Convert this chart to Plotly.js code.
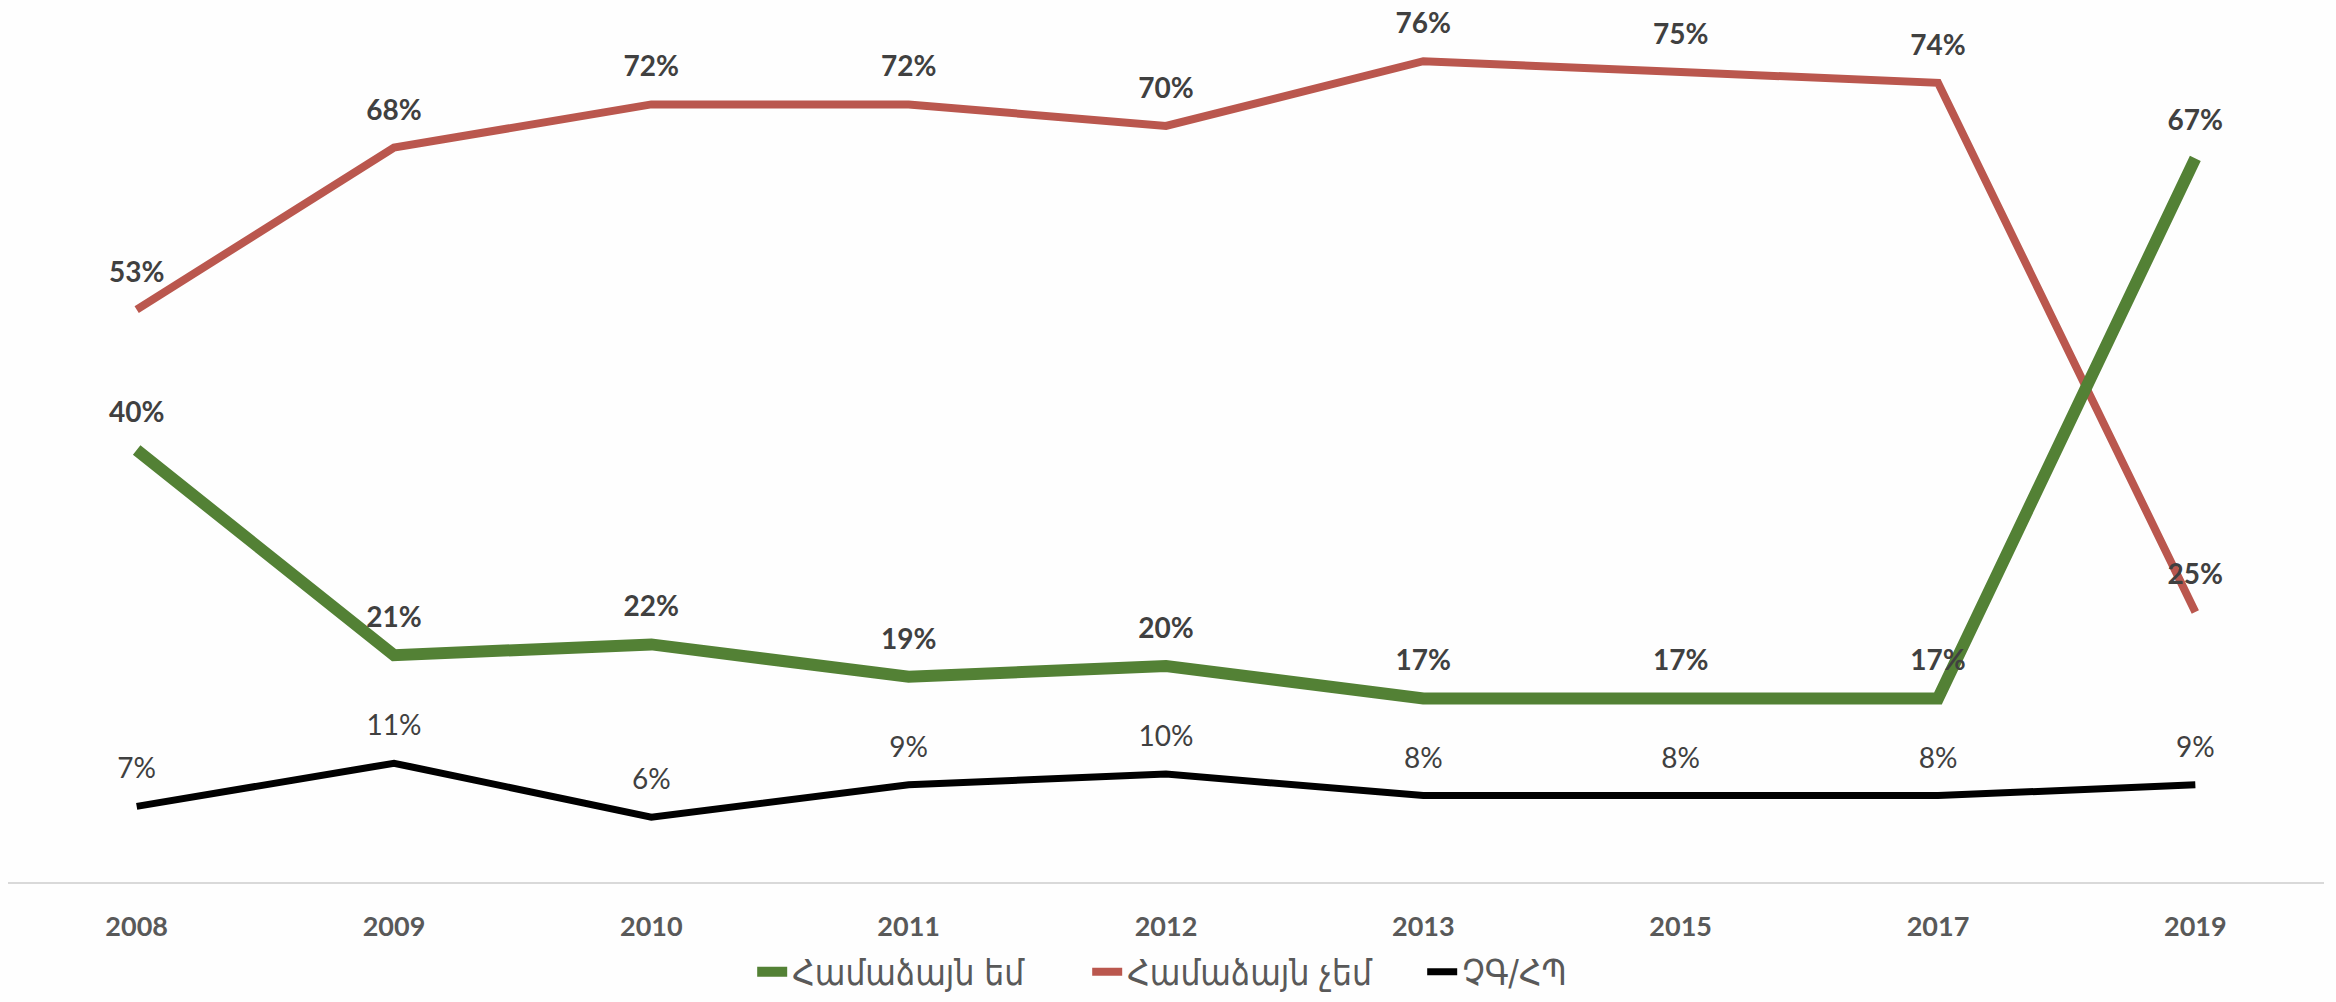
<!DOCTYPE html>
<html>
<head>
<meta charset="utf-8">
<script src="https://cdn.plot.ly/plotly-3.0.1.min.js"></script>
<style>html,body{margin:0;padding:0;background:#fefefe;}</style>
</head>
<body>
<div id="chart" style="width:2336px;height:1002px;"></div>
<script>
const years = ['2008','2009','2010','2011','2012','2013','2015','2017','2019'];
const agree = [40,21,22,19,20,17,17,17,67];
const disagree = [53,68,72,72,70,76,75,74,25];
const dk = [7,11,6,9,10,8,8,8,9];
const names = ['Համաձայն եմ','Համաձայն չեմ','ՉԳ/ՀՊ'];
const colors = ['#538135','#BA574E','#000000'];

function pct(a){return a.map(v=>v+'%');}
const hidden = 'rgba(0,0,0,0)';

const traces = [
  {x:years,y:disagree,name:names[1],mode:'lines+markers+text',text:pct(disagree),legendrank:2,
   textposition:'top center',line:{color:colors[1],width:8},marker:{size:32,color:hidden},
   textfont:{family:'Lato, sans-serif',size:28,color:'#404040',weight:700},hoverinfo:'none',cliponaxis:false},
  {x:years,y:agree,name:names[0],mode:'lines+markers+text',text:pct(agree),legendrank:1,
   textposition:'top center',line:{color:colors[0],width:12},marker:{size:32,color:hidden},
   textfont:{family:'Lato, sans-serif',size:28,color:'#404040',weight:700},hoverinfo:'none',cliponaxis:false},
  {x:years,y:dk,name:names[2],mode:'lines+markers+text',text:pct(dk),legendrank:3,
   textposition:'top center',line:{color:colors[2],width:7},marker:{size:32,color:hidden},
   textfont:{family:'Lato, sans-serif',size:28,color:'#404040'},hoverinfo:'none',cliponaxis:false}
];

const layout = {
  width:2336,height:1002,
  paper_bgcolor:'#fefefe',plot_bgcolor:'#fefefe',
  margin:{l:8,r:12,t:18,b:120},
  showlegend:true,
  legend:{orientation:'h',x:0.322,xanchor:'left',xref:'container',yref:'container',y:0.03,yanchor:'middle',
    entrywidth:290,entrywidthmode:'pixels',
    font:{family:'DejaVu Sans Condensed, DejaVu Sans, sans-serif',size:35,color:'#595959'}},
  xaxis:{type:'category',range:[-0.5,8.5],showline:true,linecolor:'#d9d9d9',linewidth:2,
    showgrid:false,zeroline:false,ticks:'outside',ticklen:20,tickcolor:'rgba(0,0,0,0)',
    tickfont:{family:'Lato, sans-serif',size:27,color:'#595959',weight:700},fixedrange:true},
  yaxis:{range:[0,80],visible:false,showgrid:false,zeroline:false,fixedrange:true}
};

Plotly.newPlot('chart',traces,layout,{displayModeBar:false,staticPlot:true});
</script>
</body>
</html>
